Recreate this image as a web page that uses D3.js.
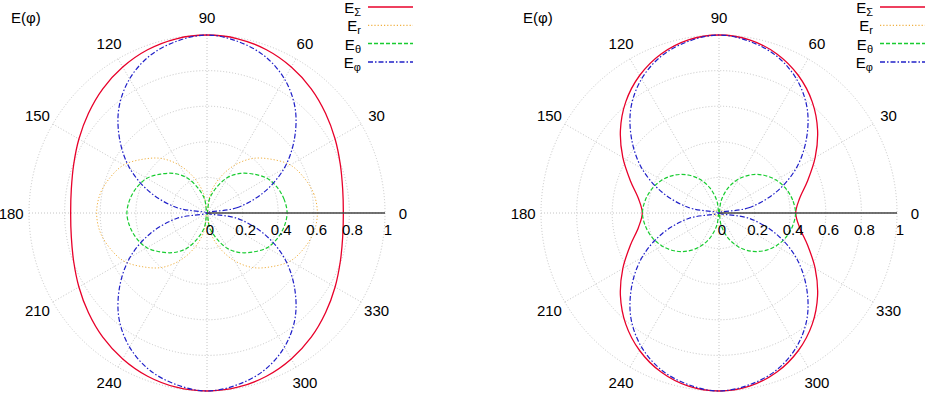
<!DOCTYPE html>
<html>
<head>
<meta charset="utf-8">
<script src="https://cdn.jsdelivr.net/npm/d3@7"></script>
<style>
  body { margin: 0; background: #fff; }
  svg { display: block; font-family: "Liberation Sans", Arial, sans-serif; }
  .lbl { font-size: 15px; fill: #000; }
</style>
</head>
<body>
<svg id="chart" width="925" height="398"></svg>
<script>
// angles in degrees, 0..350 step 10
var angles = d3.range(0, 360, 10);

// left panel values
var leftSigma = [.766,.774,.797,.831,.870,.911,.947,.976,.994,1, .994,.976,.947,.911,.870,.831,.797,.774,.766, .774,.797,.831,.870,.911,.947,.976,.994,1, .994,.976,.947,.911,.870,.831,.797,.774];
var leftR     = [.62,.61,.58,.54,.47,.40,.31,.21,.11,0, .11,.21,.31,.40,.47,.54,.58,.61,.62, .61,.58,.54,.47,.40,.31,.21,.11,0, .11,.21,.31,.40,.47,.54,.58,.61];
var leftTheta = [.45,.44,.42,.39,.34,.29,.23,.15,.08,0, .08,.15,.23,.29,.34,.39,.42,.44,.45, .44,.42,.39,.34,.29,.23,.15,.08,0, .08,.15,.23,.29,.34,.39,.42,.44];
var leftPhi   = [0,.17,.34,.50,.64,.77,.87,.94,.98,1, .98,.94,.87,.77,.64,.50,.34,.17,0, .17,.34,.50,.64,.77,.87,.94,.98,1, .98,.94,.87,.77,.64,.50,.34,.17];

// right panel
var rightSigma = [.431,.459,.530,.624,.723,.815,.892,.951,.988,1, .988,.951,.892,.815,.723,.624,.530,.459,.431, .459,.530,.624,.723,.815,.892,.951,.988,1, .988,.951,.892,.815,.723,.624,.530,.459];
var rightR     = [.03,.03,.03,.03,.02,.02,.02,.01,.01,0, .01,.01,.02,.02,.02,.03,.03,.03,.03, .03,.03,.03,.02,.02,.02,.01,.01,0, .01,.01,.02,.02,.02,.03,.03,.03];
var rightTheta = [.43,.42,.40,.37,.33,.28,.22,.15,.07,0, .07,.15,.22,.28,.33,.37,.40,.42,.43, .42,.40,.37,.33,.28,.22,.15,.07,0, .07,.15,.22,.28,.33,.37,.40,.42];
var rightPhi   = [0,.17,.34,.50,.64,.77,.87,.94,.98,1, .98,.94,.87,.77,.64,.50,.34,.17,0, .17,.34,.50,.64,.77,.87,.94,.98,1, .98,.94,.87,.77,.64,.50,.34,.17];

var radialTicks = [0, 0.2, 0.4, 0.6, 0.8, 1];
var radialLabels = ["0", "0.2", "0.4", "0.6", "0.8", "1"];
var angleTicks = d3.range(0, 360, 30);
// 270 falls below the picture's edge, so it gets no label
var angleLabels = [0, 30, 60, 90, 120, 150, 180, 210, 240, 300, 330];
var seriesNames = ["\u03A3", "r", "\u03B8", "\u03C6"];

var styles = [
  {color: "#e8002a", width: 1.3, dash: null},
  {color: "#f0b040", width: 1, dash: "1.2,2"},
  {color: "#18cc30", width: 1.2, dash: "4,2"},
  {color: "#2020c8", width: 1.2, dash: "5,2,1.5,2"}
];

var svg = d3.select("#chart");
var R = 178;

var panels = [
  {cx: 207, cy: 213, series: [leftSigma, leftR, leftTheta, leftPhi]},
  {cx: 719, cy: 213, series: [rightSigma, rightR, rightTheta, rightPhi]}
];

var r = d3.scaleLinear().domain([0, 1]).range([0, R]);
// math angle (deg, ccw from east) -> d3 radial angle (rad, cw from north)
var a = d3.scaleLinear().domain([0, 360]).range([Math.PI / 2, Math.PI / 2 - 2 * Math.PI]);

panels.forEach(function(p) {
  var g = svg.append("g").attr("transform", "translate(" + p.cx + "," + p.cy + ")");

  // grid circles
  g.selectAll(".ring")
    .data(radialTicks.filter(function(d) { return d > 0; }))
    .enter().append("circle")
    .attr("r", function(d) { return r(d); })
    .attr("fill", "none")
    .attr("stroke", "#c4c4c4")
    .attr("stroke-width", 1)
    .attr("stroke-dasharray", "1,2");

  // spokes
  g.selectAll(".spoke")
    .data(angleTicks)
    .enter().append("line")
    .attr("x1", 0).attr("y1", 0)
    .attr("x2", function(d) { return r(1) * Math.sin(a(d)); })
    .attr("y2", function(d) { return -r(1) * Math.cos(a(d)); })
    .attr("stroke", "#c4c4c4")
    .attr("stroke-width", 1)
    .attr("stroke-dasharray", "1,2");

  // angle labels
  g.selectAll(".alab")
    .data(angleLabels)
    .enter().append("text")
    .attr("class", "lbl")
    .attr("x", function(d) { return r(1.1) * Math.sin(a(d)); })
    .attr("y", function(d) { return -r(1.1) * Math.cos(a(d)); })
    .attr("text-anchor", "middle")
    .attr("dominant-baseline", "central")
    .text(function(d) { return d; });

  // curves
  var line = d3.lineRadial()
    .angle(function(d, i) { return a(angles[i]); })
    .radius(function(d) { return r(d); })
    .curve(d3.curveCatmullRomClosed.alpha(0.5));

  p.series.forEach(function(s, i) {
    g.append("path")
      .datum(s)
      .attr("d", line)
      .attr("fill", "none")
      .attr("stroke", styles[i].color)
      .attr("stroke-width", styles[i].width)
      .attr("stroke-dasharray", styles[i].dash);
  });

  // radial axis
  g.append("line")
    .attr("x1", r(0)).attr("y1", 0)
    .attr("x2", r(1)).attr("y2", 0)
    .attr("stroke", "#444")
    .attr("stroke-width", 1.6);

  g.selectAll(".rlab")
    .data(radialTicks)
    .enter().append("text")
    .attr("class", "lbl")
    .attr("x", function(d) { return r(d) + 3; })
    .attr("y", 16)
    .attr("text-anchor", "middle")
    .attr("dominant-baseline", "central")
    .text(function(d, i) { return radialLabels[i]; });

  // title
  svg.append("text")
    .attr("class", "lbl")
    .attr("x", p.cx - 196)
    .attr("y", 17)
    .attr("dominant-baseline", "central")
    .text("E(\u03C6)");

  // legend
  var lg = svg.append("g").attr("transform", "translate(" + (p.cx + 161) + ",7)");
  seriesNames.forEach(function(n, i) {
    var y = i * 18.3;
    var t = lg.append("text")
      .attr("class", "lbl")
      .attr("x", -7)
      .attr("y", y)
      .attr("text-anchor", "end")
      .attr("dominant-baseline", "central");
    t.append("tspan").text("E");
    t.append("tspan").attr("dy", 5).style("font-size", "11px").text(n);
    lg.append("line")
      .attr("x1", 0).attr("x2", 45)
      .attr("y1", y).attr("y2", y)
      .attr("stroke", styles[i].color)
      .attr("stroke-width", styles[i].width + 0.3)
      .attr("stroke-dasharray", styles[i].dash);
  });
});
</script>
</body>
</html>
